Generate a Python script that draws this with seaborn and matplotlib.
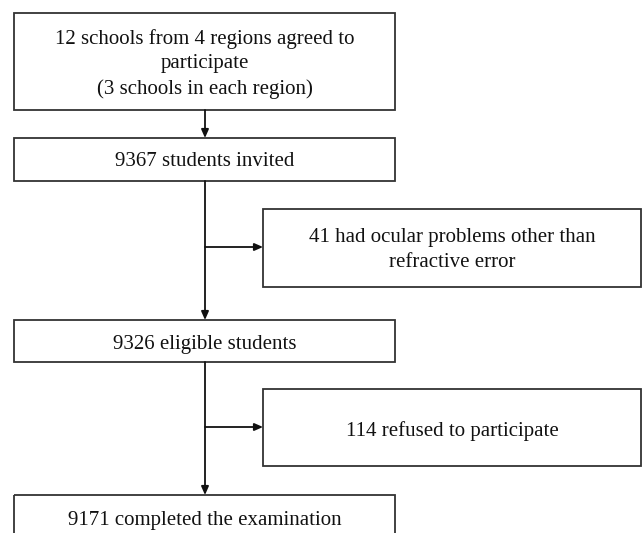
import seaborn as sns
import matplotlib.pyplot as plt
from matplotlib.patches import Rectangle

# flow counts and labels
main_steps = [
    '12 schools from 4 regions agreed to\nparticipate\n(3 schools in each region)',
    '9367 students invited',
    '9326 eligible students',
    '9171 completed the examination',
]
excluded_steps = [
    '41 had ocular problems other than\nrefractive error',
    '114 refused to participate',
]

if __name__ == '__main__':
    sns.set_style('white')
    plt.rcParams['font.family'] = ['Liberation Serif', 'DejaVu Serif']

    fig = plt.figure(figsize=(6.42, 5.33), dpi=100)
    ax = fig.add_axes([0, 0, 1, 1])
    ax.set_xlim(0, 642)
    ax.set_ylim(533, 0)
    ax.axis('off')

    edge = '#333333'
    lw = 1.3
    fs = 15

    # layout of the boxes (pixel space): (left, top, right, bottom)
    main_boxes = [(14, 13, 395, 110), (14, 138, 395, 181),
                  (14, 320, 395, 362), (14, 495, 395, 560)]
    side_boxes = [(263, 209, 641, 287), (263, 389, 641, 466)]
    text_y = [64, 162, 344, 521]
    side_text_y = [250, 431]
    spine_x = 205

    def draw_box(b, label, ty):
        l, t, r, bt = b
        ax.add_patch(Rectangle((l, t), r - l, bt - t, fill=False,
                               edgecolor=edge, linewidth=lw, clip_on=False))
        ax.text((l + r) / 2, ty, label, ha='center', va='center',
                fontsize=fs, color='#111111', linespacing=1.42)

    for b, label, ty in zip(main_boxes, main_steps, text_y):
        draw_box(b, label, ty)
    for b, label, ty in zip(side_boxes, excluded_steps, side_text_y):
        draw_box(b, label, ty)

    arrow = dict(arrowstyle='-|>,head_length=0.5,head_width=0.22',
                 color='#111111', lw=lw, shrinkA=0, shrinkB=0)

    # vertical connectors between main boxes
    for upper, lower in zip(main_boxes[:-1], main_boxes[1:]):
        ax.annotate('', xy=(spine_x, lower[1]), xytext=(spine_x, upper[3]),
                    arrowprops=arrow)

    # side arrows to exclusion boxes
    for b, ty in zip(side_boxes, [247, 427]):
        ax.annotate('', xy=(b[0], ty), xytext=(spine_x, ty), arrowprops=arrow)

    fig.savefig('out.png', dpi=100)
